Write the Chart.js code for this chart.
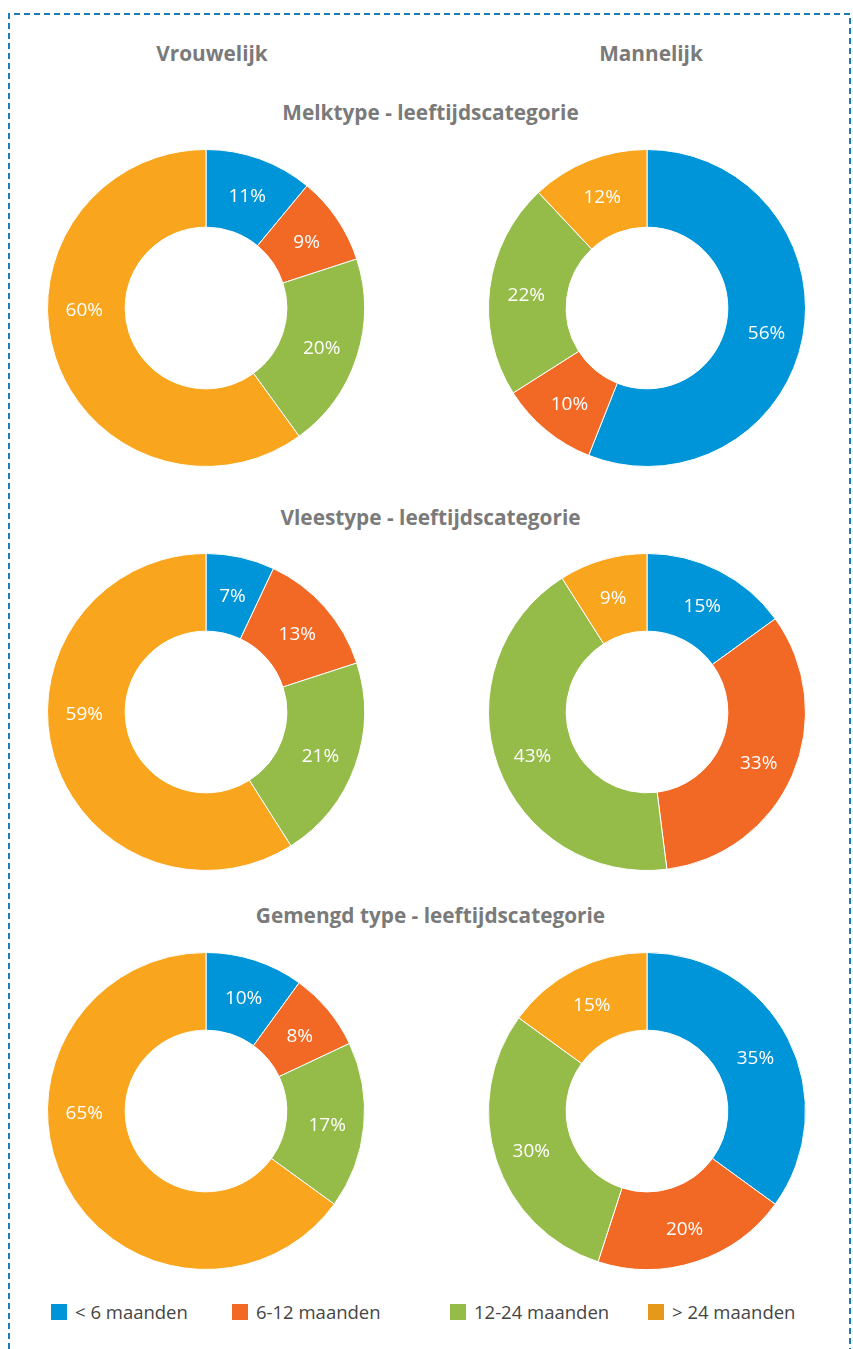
<!DOCTYPE html>
<html>
<head>
<meta charset="utf-8">
<script src="https://cdn.jsdelivr.net/npm/chart.js@4.4.1/dist/chart.umd.min.js"></script>
<style>
html,body{margin:0;padding:0;background:#fff;}
#page{position:relative;width:853px;height:1349px;overflow:hidden;font-family:"Open Sans",sans-serif;}
.hdr{position:absolute;transform:translate(-50%,-50%);font-weight:700;font-size:20.8px;color:#7a7a7a;white-space:nowrap;line-height:1;}
.chart{position:absolute;width:318px;height:318px;}
.leg{position:absolute;display:flex;align-items:center;font-size:18.5px;color:#454545;white-space:nowrap;line-height:1;}
.sw{width:16px;height:16px;margin-right:8px;flex:none;}
</style>
</head>
<body>
<div id="page">
<svg width="853" height="1349" style="position:absolute;left:0;top:0">
<path d="M9 1349 V14 H850 V1349" fill="none" stroke="#1a7cb9" stroke-width="2" stroke-dasharray="6 4"/>
</svg>
</div>
<script>
// ---- data ----
const categories = ['< 6 maanden', '6-12 maanden', '12-24 maanden', '> 24 maanden'];
const genders = ['Vrouwelijk', 'Mannelijk'];
const sectionTitles = ['Melktype - leeftijdscategorie', 'Vleestype - leeftijdscategorie', 'Gemengd type - leeftijdscategorie'];
const melkVrouwelijk = [11, 9, 20, 60];
const melkMannelijk = [56, 10, 22, 12];
const vleesVrouwelijk = [7, 13, 21, 59];
const vleesMannelijk = [15, 33, 43, 9];
const gemengdVrouwelijk = [10, 8, 17, 65];
const gemengdMannelijk = [35, 20, 30, 15];

// ---- style / layout ----
const sliceColors = ['#0095d8', '#f26825', '#95bb48', '#f9a61e'];
const legendColors = ['#0095d8', '#f26825', '#95bb48', '#e4991c'];
const colX = [206, 647];
const rowY = [307.5, 712, 1110.5];
const titleY = [112, 517, 915];
const genderX = [212, 651];
const genderY = 53;
const legendX = [51, 232, 450, 648];
const legendY = 1312;

const page = document.getElementById('page');
function addText(txt, x, y) {
  const d = document.createElement('div');
  d.className = 'hdr'; d.textContent = txt;
  d.style.left = x + 'px'; d.style.top = y + 'px';
  page.appendChild(d);
}
genders.forEach((g, i) => addText(g, genderX[i], genderY));
sectionTitles.forEach((t, i) => addText(t, 430.5, titleY[i]));

categories.forEach((c, i) => {
  const d = document.createElement('div');
  d.className = 'leg';
  d.style.left = legendX[i] + 'px';
  d.style.top = (legendY - 9) + 'px';
  d.style.height = '18px';
  const s = document.createElement('span');
  s.className = 'sw'; s.style.background = legendColors[i];
  const t = document.createElement('span'); t.textContent = c;
  d.appendChild(s); d.appendChild(t);
  page.appendChild(d);
});

const labelPlugin = {
  id: 'pctLabels',
  afterDatasetsDraw(chart) {
    const ctx = chart.ctx;
    const meta = chart.getDatasetMeta(0);
    const data = chart.data.datasets[0].data;
    const total = data.reduce((a, b) => a + b, 0);
    ctx.save();
    ctx.fillStyle = '#ffffff';
    ctx.font = '19px "Open Sans"';
    ctx.textAlign = 'center';
    ctx.textBaseline = 'middle';
    meta.data.forEach((arc, i) => {
      const p = arc.getProps(['x', 'y', 'startAngle', 'endAngle', 'innerRadius', 'outerRadius'], true);
      let a = (p.startAngle + p.endAngle) / 2;
      if (data[i] / total >= 0.58) {
        let best = null;
        for (const h of [-Math.PI, 0, Math.PI, 2 * Math.PI]) {
          if (h > p.startAngle && h < p.endAngle && (best === null || Math.abs(h - a) < Math.abs(best - a))) best = h;
        }
        if (best !== null) a = best;
      }
      const r = (p.innerRadius + p.outerRadius) / 2 + 2;
      ctx.fillText(data[i] + '%', p.x + r * Math.cos(a), p.y + r * Math.sin(a) + 3);
    });
    ctx.restore();
  }
};

const grid = [
  [melkVrouwelijk, melkMannelijk],
  [vleesVrouwelijk, vleesMannelijk],
  [gemengdVrouwelijk, gemengdMannelijk]
];
grid.forEach((row, r) => {
  row.forEach((vals, c) => {
    const wrap = document.createElement('div');
    wrap.className = 'chart';
    wrap.style.left = (colX[c] - 159) + 'px';
    wrap.style.top = (rowY[r] - 159) + 'px';
    const cv = document.createElement('canvas');
    cv.width = 318; cv.height = 318;
    wrap.appendChild(cv);
    page.appendChild(wrap);
    new Chart(cv, {
      type: 'doughnut',
      data: {
        labels: categories,
        datasets: [{ data: vals, backgroundColor: sliceColors, borderColor: '#ffffff', borderWidth: 1 }]
      },
      options: {
        responsive: false,
        animation: false,
        cutout: '51%',
        layout: { padding: 0 },
        plugins: { legend: { display: false }, tooltip: { enabled: false } }
      },
      plugins: [labelPlugin]
    });
  });
});
</script>
</body>
</html>
